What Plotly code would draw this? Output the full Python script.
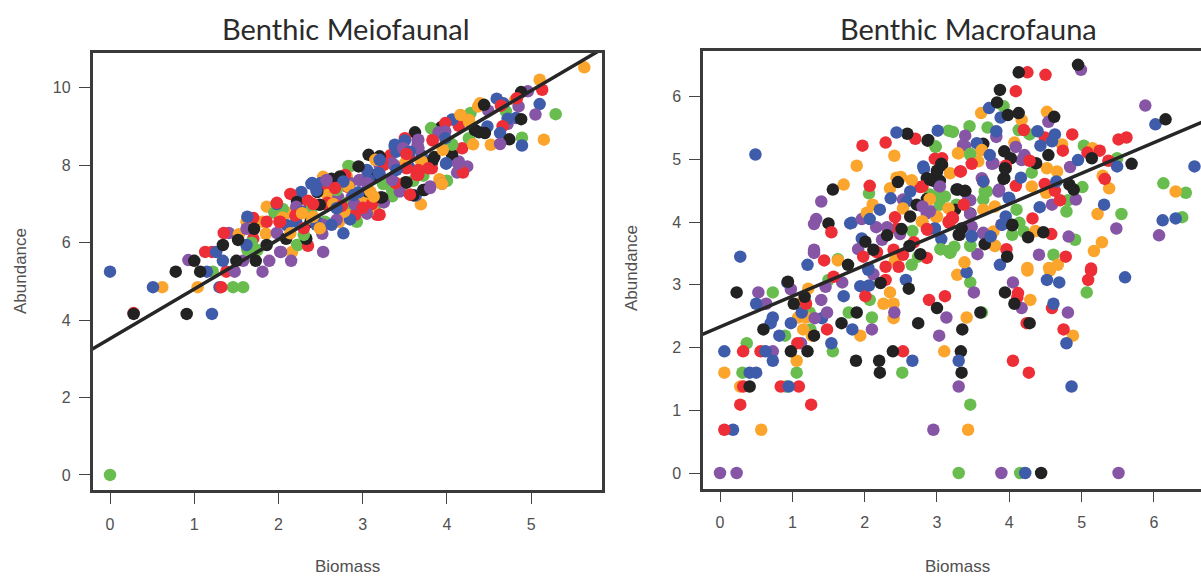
import plotly.graph_objects as go
from itertools import zip_longest

# (biomass, abundance), one list per colour
meio_blue = [(0,5.25),(.51,4.85),(1.21,4.16),(1.15,5.25),(1.30,4.85),(1.26,5.76),(1.34,5.53),(1.62,5.94),(1.63,6.67),(1.98,7.0),
 (2.21,6.54),(2.27,7.31),(2.40,7.54),(2.50,7.54),(2.39,7.52),(2.29,6.8),(2.47,6.51),(2.77,6.24),(3.06,7.75),(2.85,6.6),
 (5.10,9.58),(4.82,9.22),(4.59,9.72),(4.67,9.60),(4.72,9.2),(4.48,9.0),(4.06,9.18),(4.63,8.83),(4.89,8.51),(3.99,8.48),
 (3.17,8.12),(3.38,8.48),(3.50,8.64),(3.99,8.04),(3.20,7.78),(3.63,7.22),(3.05,7.88),(3.07,7.62),(3.40,8.35),(2.45,7.35),(3.7,8.25),(3.55,7.95),(2.1,6.45),(2.95,7.3),
 (3.38,8.53),(3.56,8.35),(3.98,8.70),(3.99,8.05),(3.20,8.14),(3.19,7.80),(3.40,7.88),(2.45,6.46),(2.63,6.46),(2.69,6.89),(2.89,7.23),(2.77,7.58)]
meio_red = [(.28,4.18),(1.38,5.25),(1.13,5.76),(1.21,5.76),(1.32,4.85),(1.35,6.25),(1.70,6.10),(1.70,6.64),(1.86,6.54),(1.98,7.03),
 (2.01,6.54),(2.14,7.26),(2.35,5.92),(2.35,7.08),(2.58,7.36),(2.58,7.03),(2.82,7.44),(2.58,6.98),(2.91,6.72),(3.17,6.72),
 (3.10,6.97),(5.13,9.95),(4.83,9.73),(4.64,9.54),(4.66,9.01),(4.14,9.02),(3.98,9.09),(4.18,8.44),(3.83,8.66),(3.50,8.70),
 (3.52,8.27),(3.33,8.26),(3.82,7.92),(4.19,7.81),(3.66,7.75),(3.57,7.24),(3.20,6.72),(3.11,7.0),(2.79,7.75),(3.25,8.01),(3.39,7.54),(3.55,8.2),(3.0,6.9),(2.2,6.7),(2.75,6.95),
 (3.83,8.64),(3.52,8.29),(3.52,7.92),(3.66,7.88),(3.78,7.92),(3.64,7.75),(3.56,7.24),(2.02,6.54),(2.30,6.37),(2.41,7.0),(2.67,7.41)]
meio_green = [(0,0),(1.22,5.25),(1.46,4.85),(1.58,4.85),(1.63,5.81),(1.75,5.81),(1.68,6.0),(1.95,6.77),(2.05,6.87),(2.22,5.94),
 (2.23,5.94),(2.55,6.54),(2.68,7.3),(2.83,7.98),(2.90,6.93),(2.93,6.54),(2.89,6.93),(5.29,9.32),(4.70,9.39),(4.28,9.35),
 (3.82,8.95),(4.89,8.71),(4.26,8.70),(4.06,8.54),(3.72,7.73),(4.0,7.6),(3.25,7.52),(3.35,7.36),(3.35,7.2),(2.85,7.97),(3.45,7.4),(3.6,7.6),(3.15,6.95),(2.4,6.9),
 (3.24,7.52),(3.35,7.36),(4.06,8.53),(3.81,8.96),(2.81,7.02),(2.69,7.36),(2.3,6.2)]
meio_orange = [(.62,4.85),(1.04,4.85),(1.53,6.22),(1.62,6.54),(1.81,6.54),(1.85,6.23),(1.86,6.93),(2.10,6.77),(2.21,6.80),(2.16,5.76),
 (2.53,7.70),(2.80,7.70),(2.72,6.54),(2.77,6.80),(2.58,7.23),(2.84,7.42),(3.0,7.19),(3.12,7.18),(5.63,10.53),(5.10,10.21),
 (4.81,9.69),(4.37,9.52),(4.39,9.60),(4.16,9.29),(4.26,9.17),(4.52,8.53),(5.15,8.66),(4.31,8.54),(3.69,8.12),(3.91,7.64),
 (3.46,7.52),(3.69,6.99),(3.22,7.97),(2.81,7.71),(3.11,6.85),(2.78,6.80),(3.12,7.19),(2.83,7.45),(2.4,6.6),(2.05,6.65),(3.95,8.4),(3.5,8.05),(2.65,7.0),
 (4.16,9.30),(4.26,9.13),(3.15,8.14),(3.70,8.10),(3.13,7.19),(3.94,7.52),(2.28,6.76),(2.14,6.24),(2.49,6.37),(2.41,6.67),(3.09,7.32)]
meio_purple = [(.93,5.55),(1.41,6.25),(1.48,5.25),(1.58,5.53),(1.81,5.25),(1.89,5.53),(2.02,5.76),(1.62,6.36),(1.98,6.25),(2.03,5.76),
 (2.15,5.53),(2.53,5.76),(2.52,6.23),(2.21,6.93),(2.36,6.80),(2.58,7.60),(2.71,7.16),(2.87,7.18),(2.96,7.62),(4.96,9.91),
 (5.05,9.31),(4.85,9.52),(4.49,9.41),(4.72,9.07),(3.65,8.66),(3.65,8.53),(3.46,8.44),(4.14,8.10),(4.24,7.97),(4.12,7.81),
 (3.80,7.45),(3.94,7.52),(4.63,8.55),(3.25,7.04),(3.35,8.05),(2.85,7.54),(3.44,7.32),(3.90,8.85),(3.2,8.0),(2.9,7.0),(3.05,6.75),
 (3.98,8.87),(3.66,8.66),(3.66,8.44),(3.48,8.44),(3.37,8.01),(3.35,7.62),(3.80,7.41),(4.13,8.05),(2.53,6.46),(2.69,6.59),(2.57,7.62),(3.05,7.54)]
meio_black = [(.28,4.16),(.91,4.16),(.78,5.25),(1.07,5.25),(1.0,5.53),(1.34,5.94),(1.50,5.53),(1.73,5.53),(1.86,5.94),(1.52,6.07),
 (1.71,6.36),(2.09,6.10),(2.22,7.05),(2.33,6.10),(2.38,6.54),(2.46,7.31),(2.63,7.65),(2.76,7.67),(3.05,7.34),(3.15,7.75),
 (4.88,9.89),(4.88,9.19),(4.44,9.56),(3.93,8.98),(3.62,8.85),(4.33,8.91),(4.45,8.83),(4.38,8.85),(4.74,8.67),(4.06,8.27),
 (3.85,8.21),(3.82,8.07),(3.07,8.27),(3.20,8.23),(3.51,7.56),(3.60,7.22),(3.73,7.36),(3.21,7.17),(3.06,7.32),(2.95,7.97),
 (3.83,8.14),(3.52,7.55),(3.72,7.36),(3.23,7.17),(2.49,6.98),(2.73,7.71)]

macro_blue = [(.49,5.08),(.28,3.45),(1.80,3.98),(1.82,3.99),(2.44,5.43),(3.01,5.46),(2.81,4.89),(2.82,4.85),(2.63,4.49),(2.36,4.38),
 (2.58,4.33),(2.21,4.20),(2.07,4.05),(2.97,3.90),(1.96,3.74),(3.06,3.73),(1.21,3.32),(2.05,3.27),(.50,2.70),(.93,3.04),
 (1.13,2.56),(1.41,2.47),(1.71,2.82),(1.94,2.98),(2.06,2.99),(2.57,3.08),(2.05,3.24),(.98,2.39),(.73,2.48),(.70,2.39),
 (.82,2.19),(.06,1.94),(.63,1.94),(.73,1.79),(.41,1.60),(.50,1.60),(.95,1.38),(.18,.69),(1.54,2.07),(1.83,2.29),
 (2.66,1.79),(3.41,3.20),(3.30,1.79),(4.22,0),(4.52,3.08),(4.69,3.04),(4.61,2.70),(4.79,2.07),(4.86,1.38),(5.60,3.12),
 (3.72,5.82),(3.88,5.67),(3.82,5.45),(4.39,5.45),(4.63,5.40),(3.55,5.26),(4.43,5.22),(4.59,5.29),(4.95,4.99),(5.49,4.89),
 (6.02,5.56),(6.56,4.89),(5.31,4.28),(6.12,4.03),(6.30,4.06),(3.87,3.32),(3.74,3.77),(3.48,3.78),(4.42,4.24),(3.95,4.09),
 (4.65,4.65),(4.16,4.71),(3.99,4.39),(3.73,5.07),(3.64,4.65),(4.0,4.38),(3.90,3.96),(3.74,3.77),(3.48,3.77),(2.97,3.90)]
macro_red = [(1.97,5.22),(2.29,5.27),(2.70,5.33),(2.97,5.01),(3.07,5.02),(2.77,4.56),(2.07,4.58),(2.42,4.08),(2.44,3.90),(2.87,3.88),
 (3.16,4.01),(2.17,3.52),(2.40,3.56),(2.68,3.68),(1.44,3.39),(1.98,3.45),(2.53,3.48),(2.86,3.43),(2.29,3.29),(2.47,3.29),
 (1.54,3.84),(1.19,2.70),(1.57,3.13),(2.01,2.82),(2.29,3.08),(2.89,2.76),(3.11,2.82),(1.48,2.29),(2.53,1.94),(1.07,2.07),
 (.32,1.94),(.56,1.94),(.32,1.38),(.84,1.38),(1.09,1.38),(.28,1.09),(1.26,1.09),(.06,.69),(4.12,2.87),(4.11,2.80),
 (4.59,2.63),(4.24,2.39),(4.75,2.29),(4.05,1.79),(4.27,1.60),(5.09,3.08),(5.13,3.23),(4.25,6.39),(4.50,6.35),(4.09,6.09),
 (4.20,5.47),(4.49,5.35),(4.87,5.40),(4.74,5.14),(5.25,5.14),(5.51,5.32),(5.62,5.35),(5.08,5.11),(5.37,4.98),(5.32,4.69),
 (4.28,4.98),(4.78,3.45),(5.13,3.26),(3.96,3.57),(4.58,3.81),(4.32,4.06),(4.70,4.35),(4.63,4.50),(4.49,4.61),(4.09,4.58),
 (3.32,4.81),(3.48,4.93),(3.22,4.06),(3.64,4.65),(3.33,4.81),(2.80,4.57),(3.37,4.28),(3.21,4.08),(3.17,3.99),(2.86,3.89),(3.95,4.90)]
macro_green = [(3.16,5.46),(2.98,5.20),(2.06,4.46),(2.90,4.44),(3.02,4.44),(3.11,4.41),(2.66,3.86),(3.05,3.57),(3.16,3.54),(1.63,3.41),
 (2.74,3.45),(2.65,3.32),(.73,2.88),(1.50,3.08),(2.07,2.76),(1.78,2.56),(2.10,2.48),(1.24,2.56),(1.25,2.29),(.90,2.19),
 (.37,2.07),(1.56,1.94),(1.06,1.60),(.31,1.60),(.91,1.38),(2.52,1.60),(3.46,3.04),(3.62,2.56),(3.46,1.09),(3.30,0),
 (4.15,0),(5.07,2.88),(3.45,5.53),(3.22,5.44),(3.70,5.51),(3.92,5.85),(4.13,5.47),(4.28,5.40),(5.03,5.22),(5.49,5.02),
 (3.46,5.07),(4.31,4.79),(5.01,4.56),(6.13,4.62),(6.44,4.47),(5.55,4.13),(6.39,4.08),(4.91,3.72),(4.61,3.48),(3.46,3.63),
 (4.04,3.80),(4.20,3.85),(4.14,3.99),(4.10,4.20),(4.81,4.35),(4.79,4.17),(3.66,4.49),(3.24,3.61),(3.18,3.51),(3.04,4.44),
 (3.69,4.49),(3.64,4.36),(3.27,4.28),(3.04,4.28),(3.46,3.62),(3.05,3.57),(3.19,3.53),(3.46,5.09),(2.98,5.21)]
macro_orange = [(1.71,4.60),(1.89,4.90),(2.41,5.06),(2.44,4.71),(2.50,4.72),(2.65,4.67),(2.35,4.54),(2.90,4.37),(2.11,4.28),(2.03,4.15),
 (2.53,4.22),(3.0,4.09),(2.79,4.01),(1.63,3.39),(2.42,3.39),(1.22,2.94),(1.07,2.70),(1.19,2.48),(1.08,2.48),(1.27,2.19),
 (1.15,2.29),(2.35,2.88),(2.26,2.70),(2.40,2.70),(2.40,2.47),(1.94,2.19),(3.10,1.94),(1.06,1.79),(.06,1.60),(.28,1.38),
 (.57,.69),(3.28,3.16),(3.41,2.48),(3.43,.69),(4.29,2.76),(4.88,2.19),(4.25,3.23),(4.56,3.23),(3.61,5.74),(4.17,5.63),
 (4.52,5.76),(3.61,5.15),(4.07,5.27),(4.73,5.24),(5.15,5.18),(4.52,4.86),(4.66,4.81),(5.29,4.74),(5.38,4.54),(6.30,4.49),
 (5.22,4.13),(5.28,3.68),(5.17,3.54),(4.67,3.32),(4.55,3.27),(4.25,3.27),(3.38,3.36),(3.80,3.62),(4.36,3.86),(3.78,3.85),
 (4.31,4.57),(4.51,4.47),(3.64,4.20),(3.80,4.25),(3.30,5.10),(3.57,4.97),(3.29,5.10),(3.18,4.78),(2.90,4.37),(2.99,4.08),(3.16,4.22),(2.80,4.01),(3.62,5.15),(3.80,3.63)]
macro_purple = [(1.40,4.33),(1.33,4.05),(1.30,3.97),(3.03,4.57),(2.53,4.36),(1.96,4.05),(2.86,4.14),(2.93,4.17),(2.16,3.92),(2.31,3.92),
 (2.49,3.81),(2.24,3.72),(1.91,3.57),(1.30,3.56),(1.30,3.51),(.53,2.88),(.64,2.70),(.98,2.93),(1.40,2.76),(1.46,2.97),
 (1.69,3.04),(2.12,3.17),(1.12,2.07),(1.31,2.47),(1.48,2.56),(2.41,2.56),(2.10,2.29),(3.13,2.48),(3.03,2.19),(.73,1.94),
 (2.95,.69),(0,0),(.23,0),(3.51,2.88),(4.05,3.04),(4.17,2.63),(4.81,2.56),(3.30,1.38),(3.89,0),(5.51,0),
 (4.99,6.43),(4.54,5.60),(3.82,5.36),(3.39,5.38),(3.39,5.21),(4.09,5.20),(5.88,5.86),(4.84,4.88),(4.21,5.07),(4.17,4.99),
 (3.78,4.94),(3.62,4.70),(3.86,4.52),(3.46,4.35),(4.59,4.28),(4.92,4.36),(5.48,3.90),(6.07,3.79),(4.82,3.77),(4.41,3.48),
 (3.56,3.49),(3.64,3.83),(3.48,3.93),(3.89,3.96),(3.36,5.23),(3.76,4.93),(3.04,4.57),(3.85,4.49),(3.43,4.36),(2.80,4.25),(2.90,4.17),(3.46,4.13),(3.64,3.82),(3.90,3.96)]
macro_black = [(1.56,4.52),(1.50,3.98),(2.59,5.41),(2.88,5.31),(3.07,4.91),(3.0,4.82),(2.46,4.64),(2.86,4.70),(2.95,4.66),(3.04,4.66),
 (2.72,4.28),(2.86,4.37),(2.63,4.09),(2.51,3.89),(2.31,3.79),(2.01,3.69),(2.12,3.56),(2.62,3.62),(2.77,3.49),(1.77,3.32),
 (.23,2.88),(.94,3.05),(1.17,2.81),(1.02,2.70),(2.22,3.03),(2.61,2.94),(3.0,2.63),(1.89,2.56),(1.68,2.39),(2.74,2.39),
 (.60,2.29),(1.30,2.19),(1.21,1.94),(.98,1.94),(2.39,1.94),(2.20,1.79),(2.21,1.60),(1.88,1.79),(.41,1.38),(3.35,2.29),
 (3.33,1.94),(3.34,1.60),(3.60,2.56),(3.94,2.88),(4.07,2.70),(4.28,2.39),(4.44,0),(4.95,6.51),(4.13,6.39),(3.87,6.11),
 (3.83,5.91),(3.98,5.71),(4.13,5.74),(4.62,5.68),(3.64,5.25),(4.54,5.07),(3.93,5.13),(4.02,5.02),(4.37,4.94),(5.14,5.02),
 (5.69,4.93),(6.16,5.64),(4.83,4.60),(4.89,4.52),(3.93,4.70),(3.95,4.86),(3.39,4.49),(3.27,4.52),(3.46,4.14),(3.25,4.20),
 (3.97,3.45),(4.04,3.96),(4.26,3.76),(4.47,3.84),(3.66,3.65),(3.30,3.80),(3.34,3.90),(3.0,4.81),(2.90,4.68),(3.29,4.52),(3.39,4.50),(3.94,4.86),(3.92,4.69),(4.04,3.95),(2.87,5.30),(3.06,4.93),(3.31,3.80)]

meio_fit = [(-1.0, 2.24), (7.0, 12.49)]
macro_fit = [(-1.0, 1.84), (8.0, 6.25)]

x_ticks_left = [0, 1, 2, 3, 4, 5]
y_ticks_left = [0, 2, 4, 6, 8, 10]
x_ticks_right = [0, 1, 2, 3, 4, 5, 6]
y_ticks_right = [0, 1, 2, 3, 4, 5, 6]

PALETTE = ["#3F5CAB", "#EE2E36", "#69BD4F", "#FBA52C", "#8655A5", "#222222"]
W, H = 1201, 577


def interleave(groups):
    pts, cols = [], []
    for row in zip_longest(*groups):
        for colour, p in zip(PALETTE, row):
            if p is not None:
                pts.append(p)
                cols.append(colour)
    return pts, cols


fig = go.Figure()
panels = [
    ([meio_blue, meio_red, meio_green, meio_orange, meio_purple, meio_black], meio_fit, "x", "y"),
    ([macro_blue, macro_red, macro_green, macro_orange, macro_purple, macro_black], macro_fit, "x2", "y2"),
]
for groups, fit, xa, ya in panels:
    pts, cols = interleave(groups)
    fig.add_trace(go.Scatter(x=[p[0] for p in pts], y=[p[1] for p in pts], mode="markers",
                             marker=dict(size=12.5, color=cols, line=dict(width=0)),
                             xaxis=xa, yaxis=ya, showlegend=False))
    fig.add_trace(go.Scatter(x=[p[0] for p in fit], y=[p[1] for p in fit], mode="lines",
                             line=dict(color="#262626", width=3.5),
                             xaxis=xa, yaxis=ya, showlegend=False))

FRAME = "#3a3a3a"
TICKF = dict(family="Liberation Sans", size=16, color="#505050")


def axis(standoff, **kw):
    return dict(showgrid=False, zeroline=False, showline=True, linecolor=FRAME, linewidth=2.5,
                ticks="outside", ticklen=11, tickwidth=1, tickcolor="#444444", tickfont=TICKF,
                ticklabelstandoff=standoff, **kw)


fig.update_layout(
    width=W, height=H, margin=dict(l=0, r=0, t=0, b=0),
    paper_bgcolor="white", plot_bgcolor="white", showlegend=False,
    xaxis=axis(7, domain=[92.5/W, 602/W], range=[-.208, 5.84], tickvals=x_ticks_left, mirror=True, anchor="y"),
    yaxis=axis(5, domain=[87/H, 524/H], range=[-.39, 10.9], tickvals=y_ticks_left, mirror=True, anchor="x"),
    xaxis2=axis(7, domain=[703/W, 1.0], range=[-.235, 6.65], tickvals=x_ticks_right, mirror=True, anchor="y2"),
    yaxis2=axis(5, domain=[88.5/H, 526/H], range=[-.247, 6.73], tickvals=y_ticks_right, anchor="x2"),
)


def label(text, px, py, size=17, family="Liberation Sans", color="#505050", angle=0):
    fig.add_annotation(text=text, x=px/W, y=1-py/H, xref="paper", yref="paper", showarrow=False,
                       xanchor="center", yanchor="middle", textangle=angle,
                       font=dict(family=family, size=size, color=color))


label("Benthic Meiofaunal", 346, 28, size=29, family="Lato", color="#2b2b2b")
label("Benthic Macrofauna", 968, 28, size=29, family="Lato", color="#2b2b2b")
label("Biomass", 347, 566)
label("Biomass", 957, 566)
label("Abundance", 20, 271, angle=-90)
label("Abundance", 631, 268, angle=-90)

fig.write_html("out.html", config={"displayModeBar": False},
               post_script="document.body.style.margin='0';document.body.style.overflow='hidden';")
